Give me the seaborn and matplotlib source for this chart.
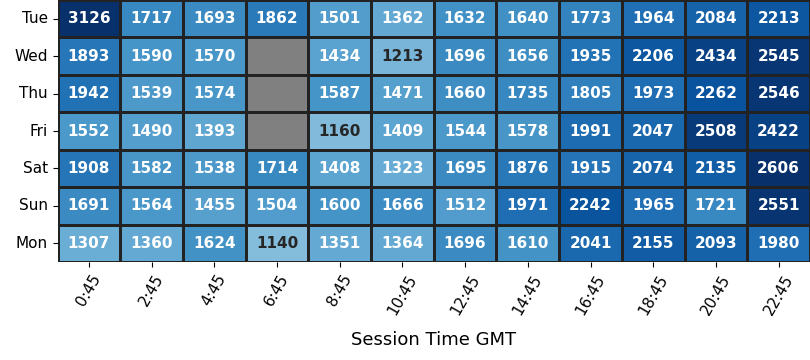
import seaborn as sns
import matplotlib.pyplot as plt
import numpy as np
import pandas as pd

days = ['Tue', 'Wed', 'Thu', 'Fri', 'Sat', 'Sun', 'Mon']
times = ['0:45', '2:45', '4:45', '6:45', '8:45', '10:45',
         '12:45', '14:45', '16:45', '18:45', '20:45', '22:45']

tue = [3126, 1717, 1693, 1862, 1501, 1362, 1632, 1640, 1773, 1964, 2084, 2213]
wed = [1893, 1590, 1570, np.nan, 1434, 1213, 1696, 1656, 1935, 2206, 2434, 2545]
thu = [1942, 1539, 1574, np.nan, 1587, 1471, 1660, 1735, 1805, 1973, 2262, 2546]
fri = [1552, 1490, 1393, np.nan, 1160, 1409, 1544, 1578, 1991, 2047, 2508, 2422]
sat = [1908, 1582, 1538, 1714, 1408, 1323, 1695, 1876, 1915, 2074, 2135, 2606]
sun = [1691, 1564, 1455, 1504, 1600, 1666, 1512, 1971, 2242, 1965, 1721, 2551]
mon = [1307, 1360, 1624, 1140, 1351, 1364, 1696, 1610, 2041, 2155, 2093, 1980]

df = pd.DataFrame([tue, wed, thu, fri, sat, sun, mon], index=days, columns=times)

fig = plt.figure(figsize=(8.1, 3.6), dpi=100)
ax = fig.add_axes([0.071, 0.272, 0.929, 0.728])
ax.set_facecolor('gray')

sns.heatmap(df, cmap='Blues', vmin=0, vmax=2600, annot=True, fmt='.0f',
            annot_kws={'fontsize': 11, 'fontweight': 'bold'},
            linewidths=1, linecolor='#222222', cbar=False, ax=ax)

plt.xticks(rotation=60, fontsize=11)
plt.yticks(rotation=0, fontsize=11)
ax.set_xlabel('Session Time GMT', fontsize=13, labelpad=10)
ax.set_ylabel('')

plt.savefig('out.png')
